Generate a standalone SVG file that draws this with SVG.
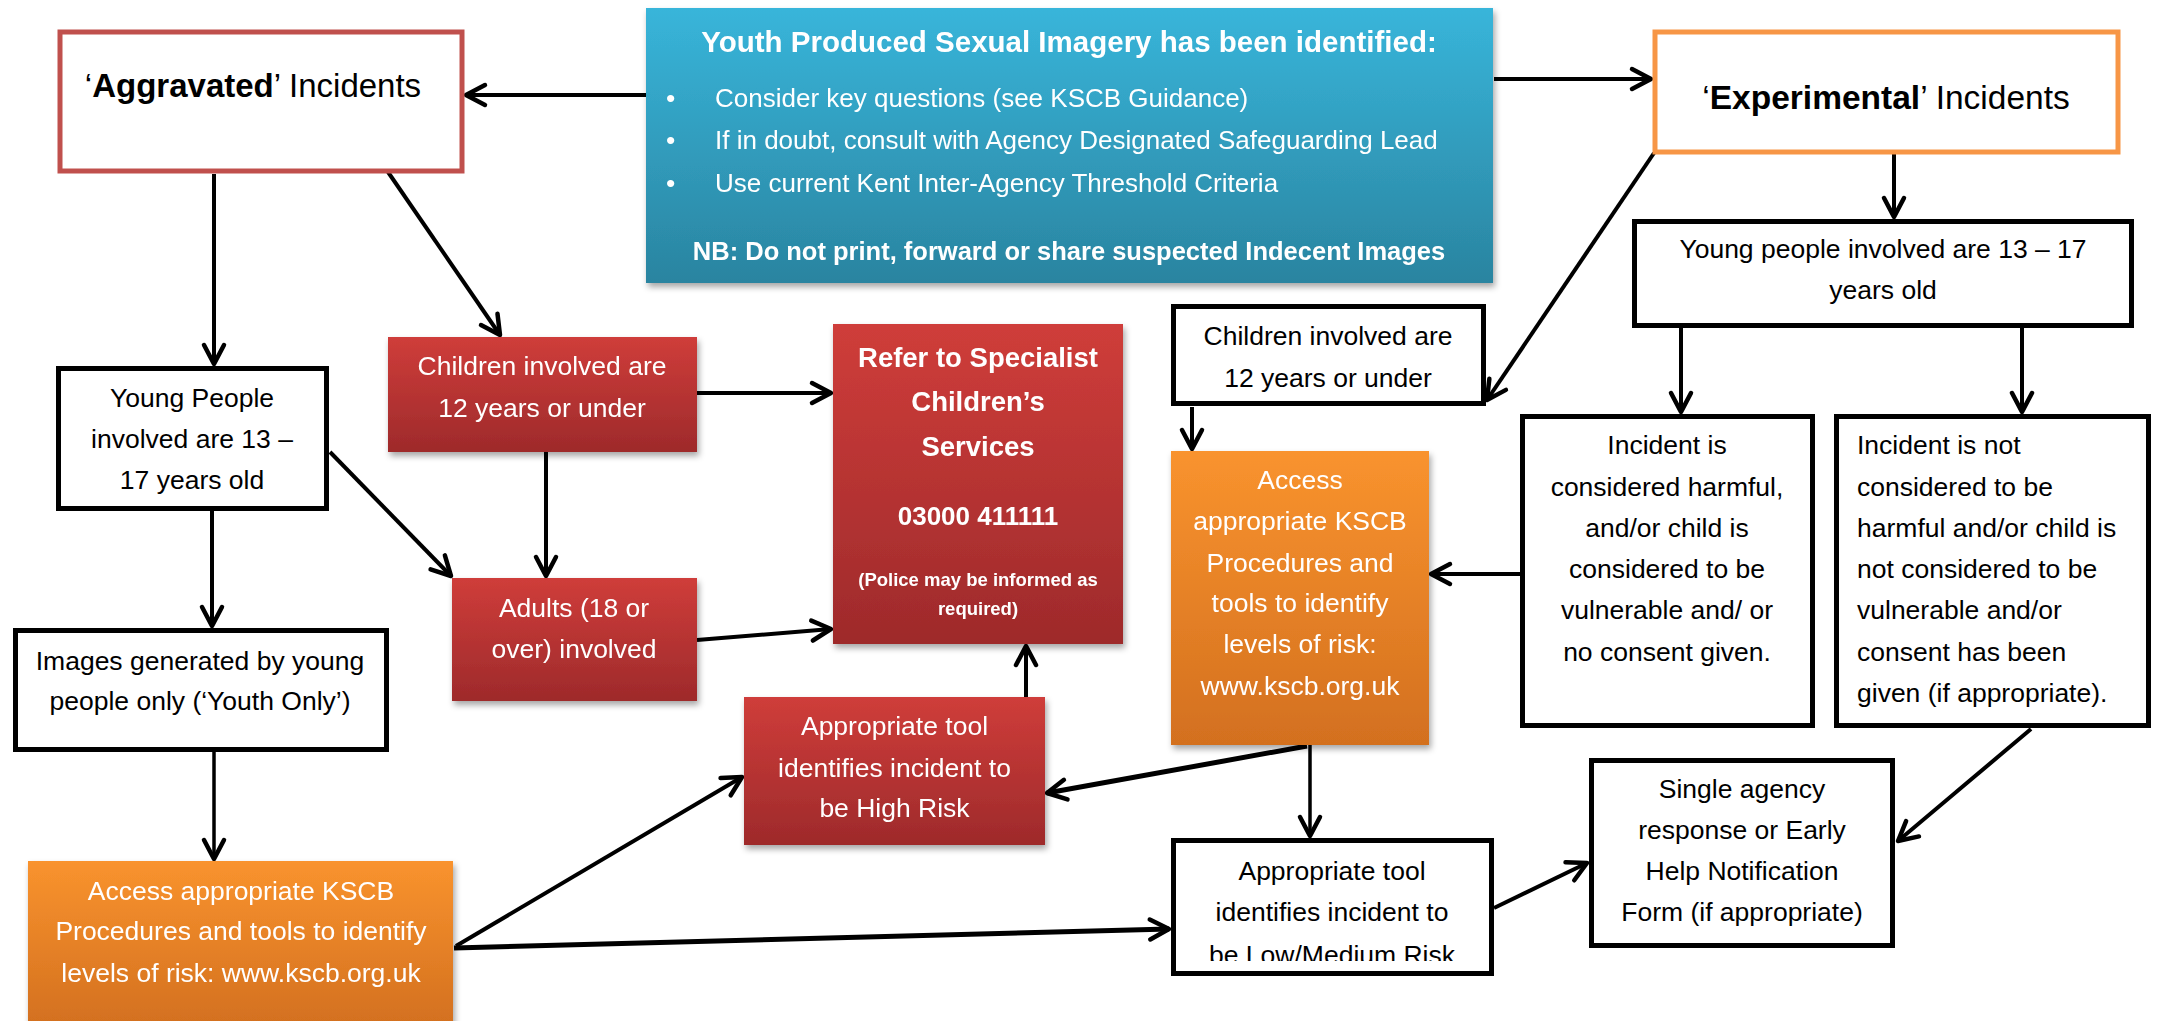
<svg xmlns="http://www.w3.org/2000/svg" width="2163" height="1021" viewBox="0 0 2163 1021">
<defs>
<style>
.t{font-family:"Liberation Sans",Arial,sans-serif;font-size:26.5px;fill:#000}
.w{fill:#fff}
.b{font-weight:bold}
.c{text-anchor:middle}
.wb{fill:#fff;stroke:#000;stroke-width:5}
.ln{stroke:#000;stroke-width:4;fill:none;marker-end:url(#ah)}
</style>
<linearGradient id="gBlue" x1="0" y1="0" x2="0" y2="1"><stop offset="0" stop-color="#38B5DA"/><stop offset="1" stop-color="#2A84A0"/></linearGradient>
<linearGradient id="gRed" x1="0" y1="0" x2="0" y2="1"><stop offset="0" stop-color="#CF3D3A"/><stop offset="1" stop-color="#9E2A2B"/></linearGradient>
<linearGradient id="gOr" x1="0" y1="0" x2="0" y2="1"><stop offset="0" stop-color="#F9932E"/><stop offset="1" stop-color="#D3701F"/></linearGradient>
<filter id="sh" x="-10%" y="-10%" width="125%" height="130%"><feDropShadow dx="2" dy="4" stdDeviation="3" flood-color="#000" flood-opacity="0.35"/></filter>
<marker id="ah" viewBox="-4 -4 28 28" refX="20" refY="10" markerWidth="28" markerHeight="28" markerUnits="userSpaceOnUse" orient="auto">
<path d="M1,0 L20,10 L1,20" fill="none" stroke="#000" stroke-width="4.5" stroke-linejoin="round" stroke-linecap="round"/>
</marker>
<clipPath id="clipLow"><rect x="1176" y="843" width="313" height="118"/></clipPath>
</defs>
<rect width="2163" height="1021" fill="#fff"/>

<g id="connectors">
<line class="ln" x1="646" y1="95" x2="466" y2="95"/>
<line class="ln" x1="1494" y1="79" x2="1651" y2="79"/>
<line class="ln" x1="214" y1="174" x2="214" y2="364"/>
<line class="ln" x1="388" y1="172" x2="500" y2="335"/>
<line class="ln" x1="1894" y1="154" x2="1894" y2="217"/>
<line class="ln" x1="1654" y1="153" x2="1487" y2="400"/>
<line class="ln" x1="212" y1="511" x2="212" y2="626"/>
<line class="ln" x1="330" y1="452" x2="451" y2="576"/>
<line class="ln" x1="697" y1="393" x2="831" y2="393"/>
<line class="ln" x1="546" y1="452" x2="546" y2="576"/>
<line class="ln" x1="697" y1="640" x2="831" y2="629"/>
<line class="ln" x1="1026" y1="697" x2="1026" y2="646"/>
<line class="ln" x1="214" y1="752" x2="214" y2="859" style="stroke-width:3.5"/>
<line class="ln" x1="456" y1="946" x2="742" y2="777"/>
<line class="ln" x1="454" y1="948" x2="1169" y2="929" style="stroke-width:5"/>
<line class="ln" x1="1192" y1="407" x2="1192" y2="449"/>
<line class="ln" x1="1681" y1="328" x2="1681" y2="412"/>
<line class="ln" x1="2022" y1="328" x2="2022" y2="412"/>
<line class="ln" x1="1520" y1="574" x2="1431" y2="574"/>
<line class="ln" x1="1310" y1="745" x2="1310" y2="836" style="stroke-width:3.5"/>
<line class="ln" x1="1307" y1="746" x2="1047" y2="793" style="stroke-width:5"/>
<line class="ln" x1="1494" y1="908" x2="1587" y2="863"/>
<line class="ln" x1="2031" y1="729" x2="1898" y2="841"/>
</g>

<g id="aggravated">
<rect x="60" y="32" width="402" height="139" fill="#fff" stroke="#C0504D" stroke-width="5"/>
<text class="t c" x="253" y="97" style="font-size:33px">‘<tspan class="b">Aggravated</tspan>’ Incidents</text>
</g>

<g id="youth-imagery" filter="url(#sh)">
<rect x="646" y="8" width="847" height="275" fill="url(#gBlue)"/>
<text class="t w b c" x="1069" y="52" style="font-size:29.5px">Youth Produced Sexual Imagery has been identified:</text>
<text class="t w" x="666" y="107">•</text>
<text class="t w" x="715" y="107" style="font-size:26px">Consider key questions (see KSCB Guidance)</text>
<text class="t w" x="666" y="149">•</text>
<text class="t w" x="715" y="149" style="font-size:26px">If in doubt, consult with Agency Designated Safeguarding Lead</text>
<text class="t w" x="666" y="192">•</text>
<text class="t w" x="715" y="192" style="font-size:26px">Use current Kent Inter-Agency Threshold Criteria</text>
<text class="t w b c" x="1069" y="260" style="font-size:25.5px">NB: Do not print, forward or share suspected Indecent Images</text>
</g>

<g id="experimental">
<rect x="1655" y="32" width="463" height="120" fill="#fff" stroke="#F79646" stroke-width="5"/>
<text class="t c" x="1886" y="109" style="font-size:33.5px">‘<tspan class="b">Experimental</tspan>’ Incidents</text>
</g>

<g id="young-people-exp">
<rect class="wb" x="1634.5" y="221.5" width="497" height="104"/>
<text class="t c" x="1883" y="258">Young people involved are 13 – 17</text>
<text class="t c" x="1883" y="299">years old</text>
</g>

<g id="children-exp">
<rect class="wb" x="1173.5" y="306.5" width="310" height="97"/>
<text class="t c" x="1328" y="345">Children involved are</text>
<text class="t c" x="1328" y="387">12 years or under</text>
</g>

<g id="access-exp" filter="url(#sh)">
<rect x="1171" y="451" width="258" height="294" fill="url(#gOr)"/>
<text class="t w c" x="1300" y="489">Access</text>
<text class="t w c" x="1300" y="530">appropriate KSCB</text>
<text class="t w c" x="1300" y="572">Procedures and</text>
<text class="t w c" x="1300" y="612">tools to identify</text>
<text class="t w c" x="1300" y="653">levels of risk:</text>
<text class="t w c" x="1300" y="695">www.kscb.org.uk</text>
</g>

<g id="harmful">
<rect class="wb" x="1522.5" y="416.5" width="290" height="309"/>
<text class="t c" x="1667" y="454">Incident is</text>
<text class="t c" x="1667" y="496">considered harmful,</text>
<text class="t c" x="1667" y="537">and/or child is</text>
<text class="t c" x="1667" y="578">considered to be</text>
<text class="t c" x="1667" y="619">vulnerable and/ or</text>
<text class="t c" x="1667" y="661">no consent given.</text>
</g>

<g id="not-harmful">
<rect class="wb" x="1836.5" y="416.5" width="312" height="309"/>
<text class="t" x="1857" y="454">Incident is not</text>
<text class="t" x="1857" y="496">considered to be</text>
<text class="t" x="1857" y="537">harmful and/or child is</text>
<text class="t" x="1857" y="578">not considered to be</text>
<text class="t" x="1857" y="619">vulnerable and/or</text>
<text class="t" x="1857" y="661">consent has been</text>
<text class="t" x="1857" y="702">given (if appropriate).</text>
</g>

<g id="young-people-aggr">
<rect class="wb" x="58.5" y="368.5" width="268" height="140"/>
<text class="t c" x="192" y="407">Young People</text>
<text class="t c" x="192" y="448">involved are 13 –</text>
<text class="t c" x="192" y="489">17 years old</text>
</g>

<g id="children-aggr" filter="url(#sh)">
<rect x="388" y="337" width="309" height="115" fill="url(#gRed)"/>
<text class="t w c" x="542" y="375">Children involved are</text>
<text class="t w c" x="542" y="417">12 years or under</text>
</g>

<g id="refer" filter="url(#sh)">
<rect x="833" y="324" width="290" height="320" fill="url(#gRed)"/>
<text class="t w b c" x="978" y="367" style="font-size:27.5px">Refer to Specialist</text>
<text class="t w b c" x="978" y="411" style="font-size:27.5px">Children’s</text>
<text class="t w b c" x="978" y="456" style="font-size:27.5px">Services</text>
<text class="t w b c" x="978" y="525" style="font-size:26px">03000 411111</text>
<text class="t w b c" x="978" y="586" style="font-size:18.5px">(Police may be informed as</text>
<text class="t w b c" x="978" y="615" style="font-size:18.5px">required)</text>
</g>

<g id="adults" filter="url(#sh)">
<rect x="452" y="578" width="245" height="123" fill="url(#gRed)"/>
<text class="t w c" x="574" y="617">Adults (18 or</text>
<text class="t w c" x="574" y="658">over) involved</text>
</g>

<g id="images">
<rect class="wb" x="15.5" y="630.5" width="371" height="119"/>
<text class="t c" x="200" y="670">Images generated by young</text>
<text class="t c" x="200" y="710">people only (‘Youth Only’)</text>
</g>

<g id="access-aggr" filter="url(#sh)">
<rect x="28" y="861" width="425" height="165" fill="url(#gOr)"/>
<text class="t w c" x="241" y="900">Access appropriate KSCB</text>
<text class="t w c" x="241" y="940">Procedures and tools to identify</text>
<text class="t w c" x="241" y="982">levels of risk: www.kscb.org.uk</text>
</g>

<g id="high-risk" filter="url(#sh)">
<rect x="744" y="697" width="301" height="148" fill="url(#gRed)"/>
<text class="t w c" x="894.5" y="735">Appropriate tool</text>
<text class="t w c" x="894.5" y="777">identifies incident to</text>
<text class="t w c" x="894.5" y="817">be High Risk</text>
</g>

<g id="low-medium">
<rect class="wb" x="1173.5" y="840.5" width="318" height="133"/>
<text class="t c" x="1332" y="880">Appropriate tool</text>
<text class="t c" x="1332" y="921">identifies incident to</text>
<text class="t c" x="1332" y="964" clip-path="url(#clipLow)">be Low/Medium Risk</text>
</g>

<g id="single-agency">
<rect class="wb" x="1591.5" y="760.5" width="301" height="185"/>
<text class="t c" x="1742" y="798">Single agency</text>
<text class="t c" x="1742" y="839">response or Early</text>
<text class="t c" x="1742" y="880">Help Notification</text>
<text class="t c" x="1742" y="921">Form (if appropriate)</text>
</g>
</svg>
